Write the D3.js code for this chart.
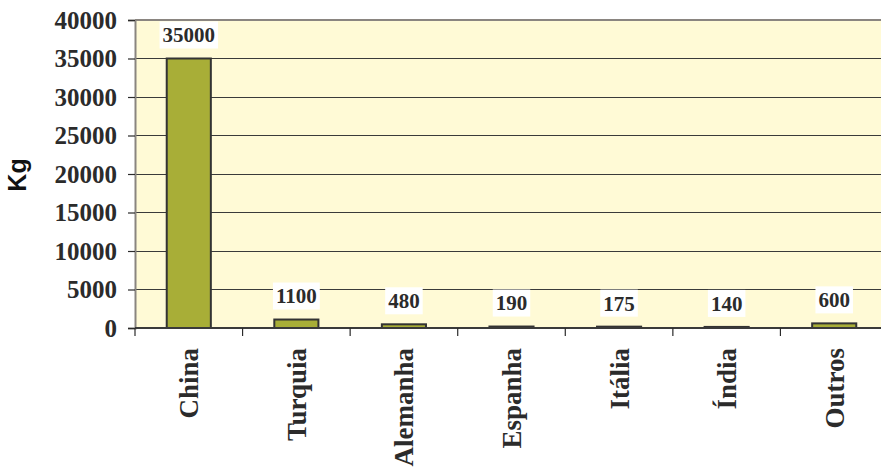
<!DOCTYPE html>
<html>
<head>
<meta charset="utf-8">
<script src="https://cdn.jsdelivr.net/npm/d3@7"></script>
<style>
  html, body { margin: 0; padding: 0; background: #ffffff; }
  svg { display: block; }
</style>
</head>
<body>
<svg id="chart" width="881" height="469"></svg>
<script>
// Import volumes by origin country (kg)
const categories = ["China", "Turquia", "Alemanha", "Espanha", "Itália", "Índia", "Outros"];
const values = [35000, 1100, 480, 190, 175, 140, 600];
const yTicks = [0, 5000, 10000, 15000, 20000, 25000, 30000, 35000, 40000];
const yTitle = "Kg";

const svg = d3.select("#chart");
const plot = { left: 135, top: 20, right: 888, bottom: 328 };

const x = d3.scaleBand()
  .domain(categories)
  .range([plot.left, plot.right])
  .paddingInner(0.59)
  .paddingOuter(0.295);

const xOuter = d3.scaleBand()
  .domain(categories)
  .range([plot.left, plot.right]);

const y = d3.scaleLinear()
  .domain([0, 40000])
  .range([plot.bottom, plot.top]);

const serif = "'Liberation Serif', 'Times New Roman', serif";
const sans = "'Liberation Sans', Arial, sans-serif";
const ink = "#2b2b2b";

// plot background
svg.append("rect")
  .attr("x", plot.left).attr("y", plot.top)
  .attr("width", plot.right - plot.left).attr("height", plot.bottom - plot.top)
  .attr("fill", "#fffad6");

// horizontal gridlines
svg.append("g")
  .selectAll("line")
  .data(yTicks.filter(d => d > 0 && d < 40000))
  .join("line")
  .attr("x1", plot.left).attr("x2", plot.right)
  .attr("y1", d => y(d)).attr("y2", d => y(d))
  .attr("stroke", "#3a3a3a").attr("stroke-width", 1)
  .attr("shape-rendering", "crispEdges");

// top border of plot area
svg.append("line")
  .attr("x1", plot.left).attr("x2", plot.right)
  .attr("y1", plot.top).attr("y2", plot.top)
  .attr("stroke", "#8a8580").attr("stroke-width", 2);

// y axis
const yAxis = d3.axisLeft(y)
  .tickValues(yTicks)
  .tickSize(7)
  .tickPadding(11)
  .tickFormat(d3.format("d"));
const gy = svg.append("g")
  .attr("transform", `translate(${plot.left},0)`)
  .call(yAxis);
gy.select(".domain").attr("stroke", "#8a8580").attr("stroke-width", 2);
gy.selectAll(".tick line").attr("stroke", ink).attr("stroke-width", 1.2);
gy.selectAll(".tick text")
  .attr("fill", ink)
  .style("font-family", serif)
  .style("font-weight", "bold")
  .style("font-size", "25px");

// bars
svg.append("g")
  .selectAll("rect")
  .data(values)
  .join("rect")
  .attr("x", (d, i) => x(categories[i]))
  .attr("y", d => y(d))
  .attr("width", x.bandwidth())
  .attr("height", d => y(0) - y(d))
  .attr("fill", "#a8ae37")
  .attr("stroke", "#333333")
  .attr("stroke-width", 2);

// x axis (category boundaries)
const gx = svg.append("g")
  .attr("transform", `translate(0,${plot.bottom})`);
gx.append("line")
  .attr("x1", plot.left).attr("x2", plot.right)
  .attr("stroke", "#3a3a3a").attr("stroke-width", 2);
gx.selectAll("line.tick")
  .data(categories)
  .join("line")
  .attr("class", "tick")
  .attr("x1", d => xOuter(d)).attr("x2", d => xOuter(d))
  .attr("y1", 0).attr("y2", 8)
  .attr("stroke", ink).attr("stroke-width", 1.2);

// category labels, rotated
gx.selectAll("text")
  .data(categories)
  .join("text")
  .attr("transform", d => `translate(${xOuter(d) + xOuter.bandwidth() / 2},20) rotate(-90)`)
  .attr("dy", "0.35em")
  .attr("text-anchor", "end")
  .attr("fill", ink)
  .style("font-family", serif)
  .style("font-weight", "bold")
  .style("font-size", "27px")
  .text(d => d);

// value labels on white boxes
const lbl = svg.append("g")
  .selectAll("g")
  .data(values)
  .join("g")
  .attr("transform", (d, i) => `translate(${x(categories[i]) + x.bandwidth() / 2},${y(d) - 23.5})`);
const lblText = lbl.append("text")
  .attr("text-anchor", "middle")
  .attr("dy", "0.35em")
  .attr("fill", ink)
  .style("font-family", serif)
  .style("font-weight", "bold")
  .style("font-size", "21px")
  .text(d => d3.format("d")(d));
lblText.each(function () {
  const b = this.getBBox();
  d3.select(this.parentNode).insert("rect", "text")
    .attr("x", b.x - 3).attr("y", -13.5)
    .attr("width", b.width + 6).attr("height", 27)
    .attr("fill", "#ffffff");
});

// y axis title
svg.append("text")
  .attr("transform", `translate(26,175) rotate(-90)`)
  .attr("text-anchor", "middle")
  .attr("fill", "#111")
  .style("font-family", sans)
  .style("font-weight", "bold")
  .style("font-size", "25px")
  .text(yTitle);
</script>
</body>
</html>
